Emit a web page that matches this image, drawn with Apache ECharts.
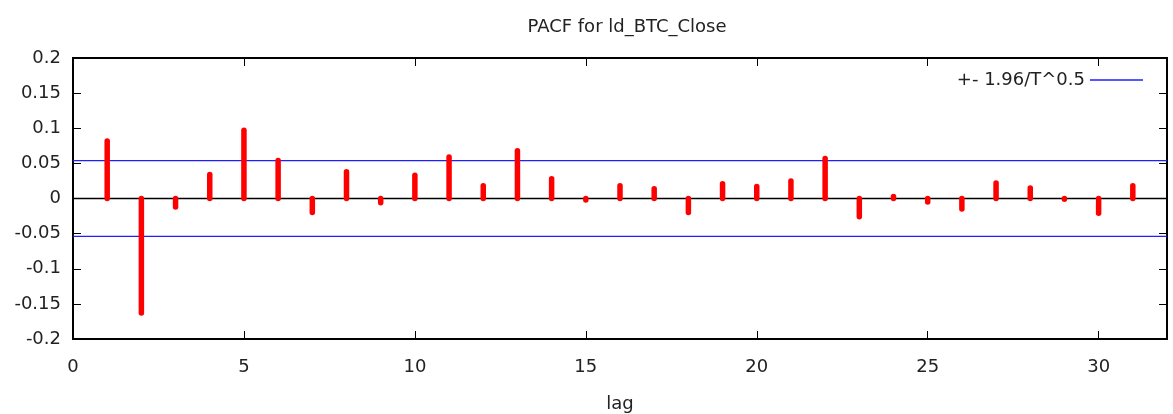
<!DOCTYPE html>
<html>
<head>
<meta charset="utf-8">
<title>PACF for ld_BTC_Close</title>
<script src="https://cdn.jsdelivr.net/npm/echarts@6/dist/echarts.min.js"></script>
<style>
  html, body { margin: 0; padding: 0; background: #fff; }
  #chart { width: 1173px; height: 414px; }
</style>
</head>
<body>
<div id="chart"></div>
<script>
// lags 1..31 and their partial autocorrelations
const lags = [1, 2, 3, 4, 5, 6, 7, 8, 9, 10, 11, 12, 13, 14, 15, 16,
  17, 18, 19, 20, 21, 22, 23, 24, 25, 26, 27, 28, 29, 30, 31];
const pacf = [0.082, -0.163, -0.012, 0.034, 0.097, 0.054, -0.020, 0.038,
  -0.006, 0.033, 0.059, 0.018, 0.068, 0.028, -0.002, 0.018, 0.014,
  -0.020, 0.021, 0.017, 0.025, 0.057, -0.026, 0.003, -0.005, -0.015,
  0.022, 0.015, -0.001, -0.021, 0.018];
const band = 0.054;
const bandName = '+- 1.96/T^0.5';
const xRange = [0, 32];
const yRange = [-0.2, 0.2];

const font = 'DejaVu Sans';
const chart = echarts.init(document.getElementById('chart'));

const stems = lags.map((lag, i) => [lag, pacf[i]]);

// gnuplot-style mirrored ticks, pointing into the plot
const tick = { inside: true, length: 8, lineStyle: { color: '#000', width: 1 } };

const option = {
  animation: false,
  title: {
    text: 'PACF for ld_BTC_Close',
    left: 622,
    textAlign: 'center',
    top: 13,
    textStyle: { fontFamily: font, fontSize: 18, fontWeight: 'normal', color: '#222' }
  },
  legend: {
    data: [{ name: bandName, icon: 'rect' }],
    right: 25,
    top: 66,
    itemWidth: 53,
    itemHeight: 1.5,
    itemGap: 10,
    align: 'right',
    textStyle: { fontFamily: font, fontSize: 18, color: '#222' }
  },
  grid: {
    left: 73,
    right: 6,
    top: 58,
    bottom: 75,
    outerBoundsMode: 'none',
    show: true,
    borderColor: '#000',
    borderWidth: 2
  },
  xAxis: [
    {
      type: 'value',
      min: xRange[0],
      max: xRange[1],
      interval: 5,
      name: 'lag',
      nameLocation: 'middle',
      nameGap: 56,
      nameTextStyle: { fontFamily: font, fontSize: 18, color: '#222' },
      axisLine: { show: false, onZero: false },
      axisTick: tick,
      axisLabel: { margin: 19, fontFamily: font, fontSize: 18, color: '#222',
        showMaxLabel: false },
      splitLine: { show: false }
    },
    {
      type: 'value',
      position: 'top',
      min: xRange[0],
      max: xRange[1],
      interval: 5,
      axisLine: { show: false, onZero: false },
      axisTick: tick,
      axisLabel: { show: false },
      splitLine: { show: false }
    }
  ],
  yAxis: [
    {
      type: 'value',
      min: yRange[0],
      max: yRange[1],
      interval: 0.05,
      axisLine: { show: false, onZero: false },
      axisTick: tick,
      axisLabel: {
        margin: 12, fontFamily: font, fontSize: 18, color: '#222',
        formatter: (v) => String(parseFloat(v.toFixed(2)))
      },
      splitLine: { show: false }
    },
    {
      type: 'value',
      position: 'right',
      min: yRange[0],
      max: yRange[1],
      interval: 0.05,
      axisLine: { show: false, onZero: false },
      axisTick: tick,
      axisLabel: { show: false },
      splitLine: { show: false }
    }
  ],
  series: [
    {
      name: 'zero',
      type: 'line',
      silent: true,
      symbol: 'none',
      lineStyle: { color: '#000', width: 1.5 },
      data: [[xRange[0], 0], [xRange[1], 0]],
      z: 1
    },
    {
      name: 'pacf',
      type: 'custom',
      data: stems,
      renderItem: (params, api) => {
        const p0 = api.coord([api.value(0), 0]);
        const p1 = api.coord([api.value(0), api.value(1)]);
        return {
          type: 'line',
          shape: { x1: p0[0], y1: p0[1], x2: p1[0], y2: p1[1] },
          style: { stroke: '#ff0000', lineWidth: 5.5, lineCap: 'round' }
        };
      },
      z: 3
    },
    {
      name: bandName,
      type: 'line',
      symbol: 'none',
      color: '#1f1fff',
      lineStyle: { color: '#1f1fff', width: 1.3 },
      data: [[xRange[0], band], [xRange[1], band]],
      z: 2
    },
    {
      name: bandName,
      type: 'line',
      symbol: 'none',
      color: '#1f1fff',
      lineStyle: { color: '#1f1fff', width: 1.3 },
      data: [[xRange[0], -band], [xRange[1], -band]],
      z: 2
    }
  ]
};

chart.setOption(option);
</script>
</body>
</html>
